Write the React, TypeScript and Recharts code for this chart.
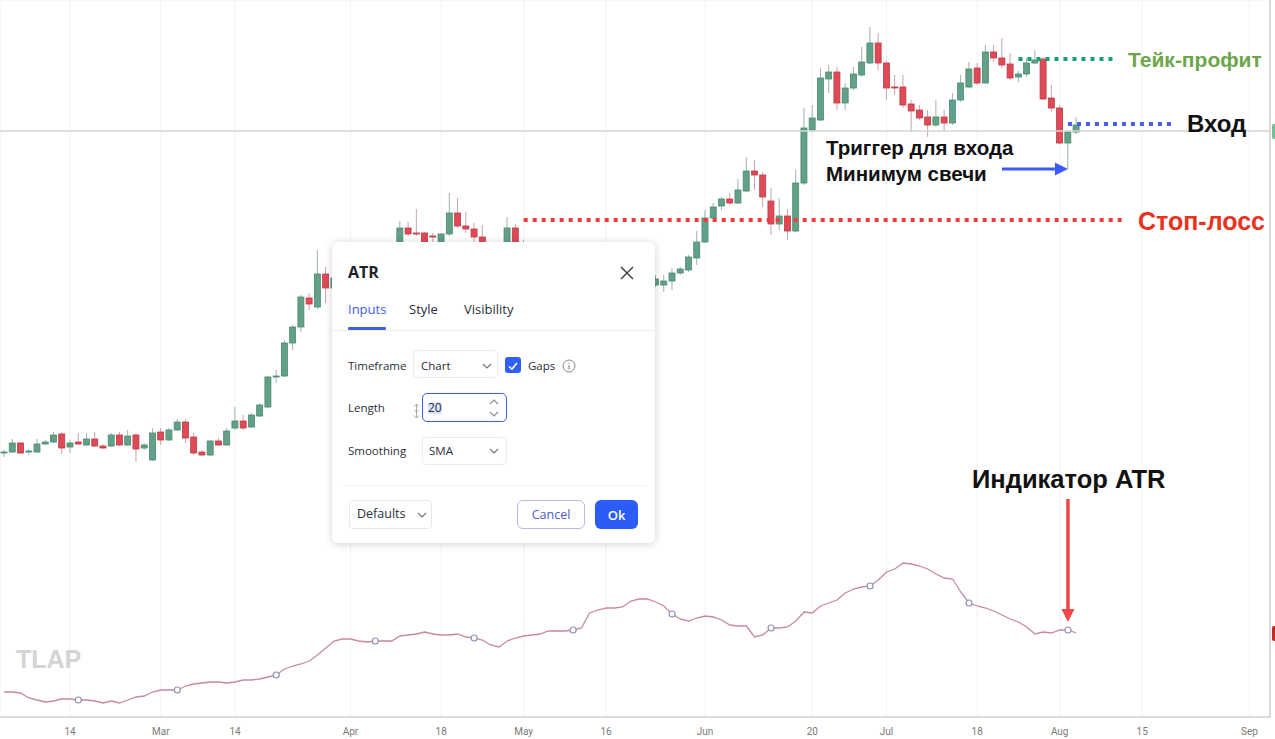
import React from 'react';
import { ComposedChart, Bar, Line, XAxis, YAxis, CartesianGrid, ReferenceLine } from 'recharts';

// weekday calendar starting Feb 2 2022 (candles + empty future slots up to the price scale)
const makeTradingDays = (start: string, count: number) => {
  const out: string[] = [];
  const d = new Date(start + 'T00:00:00Z');
  while (out.length < count) {
    const wd = d.getUTCDay();
    if (wd !== 0 && wd !== 6) out.push(d.toISOString().slice(0, 10));
    d.setUTCDate(d.getUTCDate() + 1);
  }
  return out;
};
const days = makeTradingDays('2022-02-02', 154);

const tickDates = ['2022-02-14', '2022-03-01', '2022-03-14', '2022-04-01', '2022-04-18', '2022-05-02', '2022-05-16',
  '2022-06-01', '2022-06-20', '2022-07-01', '2022-07-18', '2022-08-01', '2022-08-15', '2022-09-01'];
const tickLabels = ['14', 'Mar', '14', 'Apr', '18', 'May', '16', 'Jun', '20', 'Jul', '18', 'Aug', '15', 'Sep'];

const opens = [
  247, 248, 257, 248, 248, 256, 258, 266, 253, 258,
  255, 261, 254, 254, 265, 255, 265, 252, 240, 268,
  260, 270, 278, 263, 248, 245, 259, 255, 272, 279,
  273, 284, 293, 323, 324, 357, 373, 402, 393, 426,
  412, 422, 434, 426, 438, 445, 438, 446, 457, 472,
  467, 467, 464, 457, 466, 487, 474, 471, 463, 455,
  448, 457, 472, 457, 450, 442, 448, 438, 430, 436,
  424, 416, 422, 412, 404, 410, 416, 408, 414, 415,
  415, 419, 427, 430, 442, 458, 482, 494, 501, 497,
  509, 529, 525, 499, 476, 484, 469, 517, 570, 580,
  621, 628, 597, 612, 625, 637, 657, 637, 613, 613,
  596, 590, 583, 575, 583, 577, 600, 613, 632, 617,
  648, 642, 636, 623, 626, 637, 641, 602, 592, 557,
  568,
];
const highs = [
  250, 261, 258, 251, 261, 260, 268, 268, 260, 267,
  267, 268, 256, 267, 268, 270, 267, 257, 272, 272,
  272, 281, 281, 267, 250, 260, 262, 272, 293, 285,
  287, 297, 324, 330, 360, 375, 405, 407, 450, 433,
  430, 442, 440, 446, 452, 450, 452, 454, 479, 478,
  491, 468, 467, 467, 507, 502, 488, 477, 475, 456,
  456, 483, 476, 460, 453, 451, 450, 444, 440, 439,
  430, 428, 426, 418, 415, 420, 422, 418, 420, 425,
  425, 432, 433, 445, 469, 490, 497, 503, 507, 521,
  543, 540, 528, 512, 502, 491, 530, 592, 595, 632,
  635, 633, 617, 633, 653, 673, 667, 639, 625, 625,
  600, 595, 590, 600, 590, 607, 625, 638, 637, 655,
  655, 662, 647, 629, 642, 650, 643, 615, 595, 570,
  583,
];
const lows = [
  243, 247, 246, 245, 247, 255, 257, 246, 247, 255,
  254, 253, 251, 253, 254, 254, 238, 250, 239, 255,
  259, 269, 257, 245, 244, 244, 254, 254, 270, 270,
  272, 283, 292, 317, 323, 350, 368, 390, 391, 397,
  404, 418, 420, 423, 432, 434, 435, 442, 456, 464,
  464, 456, 457, 456, 464, 472, 467, 458, 456, 442,
  444, 456, 455, 445, 438, 436, 432, 424, 422, 418,
  408, 410, 404, 396, 400, 406, 402, 404, 407, 413,
  408, 410, 425, 428, 435, 457, 480, 490, 495, 496,
  508, 510, 493, 465, 470, 460, 468, 515, 568, 579,
  607, 590, 590, 610, 623, 636, 630, 600, 605, 592,
  568, 580, 563, 573, 570, 575, 598, 612, 615, 616,
  638, 632, 620, 618, 623, 636, 600, 588, 556, 531,
  566,
];
const closes = [
  248, 257, 247, 249, 256, 258, 265, 252, 257, 256,
  261, 254, 252, 265, 255, 264, 251, 255, 267, 260,
  270, 278, 262, 247, 245, 259, 255, 269, 279, 272,
  285, 295, 323, 324, 357, 373, 403, 396, 426, 412,
  422, 434, 426, 438, 445, 438, 446, 452, 472, 466,
  466, 457, 463, 466, 487, 474, 471, 463, 457, 448,
  454, 472, 457, 450, 442, 448, 438, 430, 436, 424,
  416, 422, 412, 404, 410, 416, 408, 414, 412, 421,
  419, 427, 431, 443, 458, 482, 493, 501, 497, 510,
  529, 525, 503, 476, 484, 469, 517, 572, 582, 622,
  628, 597, 612, 626, 638, 657, 637, 612, 612, 595,
  589, 582, 575, 583, 577, 600, 617, 631, 617, 648,
  642, 635, 622, 626, 637, 640, 601, 592, 557, 568,
  575,
];
const atrValues = [
  6.6, 6.6, 6.4, 5.4, 5.0, 4.6, 4.8, 5.2, 5.2, 5.0,
  5.0, 4.8, 4.4, 4.8, 4.4, 5.0, 5.6, 5.8, 6.6, 7.0,
  7.0, 7.0, 7.8, 8.2, 8.4, 8.6, 8.6, 8.4, 8.6, 9.0,
  9.0, 9.2, 9.6, 10.0, 11.2, 11.8, 12.2, 12.8, 14.0, 15.4,
  16.8, 17.2, 17.2, 16.8, 16.6, 16.8, 16.8, 16.8, 17.8, 18.0,
  18.2, 18.6, 18.2, 18.0, 18.0, 18.2, 17.6, 17.4, 17.0, 16.0,
  15.6, 16.8, 17.4, 17.8, 18.0, 18.2, 18.8, 18.8, 18.8, 19.0,
  19.4, 22.4, 23.0, 23.4, 23.4, 23.6, 24.8, 25.2, 25.2, 24.6,
  23.8, 22.2, 21.2, 20.8, 21.4, 21.8, 21.6, 21.0, 20.0, 19.8,
  19.8, 17.6, 18.0, 19.4, 19.4, 19.6, 20.8, 22.6, 22.4, 23.8,
  24.4, 25.0, 26.4, 27.2, 27.6, 27.8, 29.0, 30.6, 31.2, 32.4,
  32.2, 31.8, 31.2, 30.2, 29.4, 29.2, 26.6, 24.4, 23.8, 23.4,
  22.8, 22.0, 21.2, 20.6, 19.6, 18.2, 18.6, 18.4, 19.0, 19.0,
  18.4,
];

const priceGrid = [40, 101, 238, 282, 327, 371, 415, 459, 503, 547, 591, 635, 679];
const lastPriceLine = 569;
const takeProfit = 641;
const entryPrice = 576;
const stopLoss = 480;
const signalLow = 531;

const data = days.map((date, i) => ({
  date,
  range: i < opens.length ? [lows[i], highs[i]] : null,
  open: i < opens.length ? opens[i] : null,
  close: i < opens.length ? closes[i] : null,
  atr: i < atrValues.length ? atrValues[i] : null,
}));

const Candle = (props: any) => {
  const { x, y, width, height, payload } = props;
  if (!payload || payload.open == null || !payload.range) return <g />;
  const [low, high] = payload.range;
  const span = high - low || 1;
  const toY = (v: number) => y + ((high - v) / span) * height;
  const up = payload.close >= payload.open;
  const cx = x + width / 2;
  const top = toY(Math.max(payload.open, payload.close));
  const bottom = toY(Math.min(payload.open, payload.close));
  return (
    <g>
      <line x1={cx} x2={cx} y1={y} y2={y + height} stroke={up ? '#9fb2a9' : '#c8a3a7'} strokeWidth={1} />
      <rect x={x} y={top} width={width} height={Math.max(1, bottom - top)}
        fill={up ? '#62a088' : '#de4a55'} stroke={up ? '#4a8a70' : '#c03a45'} strokeWidth={0.8} />
    </g>
  );
};

const AtrDot = (props: any) => {
  const { cx, cy, index } = props;
  if (index % 12 !== 9 || cy == null) return <g key={'d' + index} />;
  return <circle key={'d' + index} cx={cx} cy={cy} r={3} fill="#fff" stroke="#8d93b6" strokeWidth={1.2} />;
};

const Arrow = (p: any) => {
  const { x1, y1, x2, y2, color, w } = p;
  const len = Math.hypot(x2 - x1, y2 - y1) || 1;
  const ux = (x2 - x1) / len, uy = (y2 - y1) / len;
  const head = 13, half = 6.5;
  const bx = x2 - ux * head, by = y2 - uy * head;
  return (
    <g>
      <line x1={x1} y1={y1} x2={bx} y2={by} stroke={color} strokeWidth={w} />
      <polygon points={`${x2},${y2} ${bx - uy * half},${by + ux * half} ${bx + uy * half},${by - ux * half}`} fill={color} />
    </g>
  );
};

// little price-scale tag sticking out right of the plot
const ScaleTag = ({ p, color, line }: any) => {
  const right = Math.max(p.x1, p.x2);
  const left = Math.min(p.x1, p.x2);
  return (
    <g>
      {line && <line x1={left} y1={p.y1} x2={right} y2={p.y2} stroke="#d4d4d4" strokeWidth={1.5} />}
      <rect x={right + 2} y={p.y1 - 7} width={8} height={15} rx={2} fill={color} />
    </g>
  );
};

const Note = ({ left, top, size, color, children }: any) => (
  <div style={{ position: 'absolute', left, top, fontSize: size, lineHeight: 1, fontWeight: 700, color,
    fontFamily: '"Liberation Sans", Arial, sans-serif', whiteSpace: 'nowrap' }}>{children}</div>
);

const Chevron = ({ left, top }: any) => (
  <svg style={{ position: 'absolute', left, top }} width={10} height={6}>
    <polyline points="1,1 5,5 9,1" fill="none" stroke="#777" strokeWidth={1.2} />
  </svg>
);

const txt = (left: number, top: number, size: number, extra: any = {}) => ({
  position: 'absolute' as const, left, top, fontSize: size, lineHeight: 1, color: '#2a2e39', whiteSpace: 'nowrap' as const, ...extra,
});

const AtrDialog = () => (
  <div style={{ position: 'absolute', left: 332, top: 242, width: 323, height: 301, background: '#fff', borderRadius: 6,
    boxShadow: '0 1px 8px rgba(0,0,0,0.18)', fontFamily: '"Open Sans", sans-serif' }}>
    <div style={txt(16, 22, 16, { fontWeight: 700, color: '#1e222d' })}>ATR</div>
    <svg style={{ position: 'absolute', left: 288, top: 24 }} width={14} height={14}>
      <path d="M1 1 L13 13 M13 1 L1 13" stroke="#444" strokeWidth={1.5} />
    </svg>
    <div style={txt(16, 61, 13, { color: '#3f5fe0' })}>Inputs</div>
    <div style={txt(77, 61, 13)}>Style</div>
    <div style={txt(132, 61, 13)}>Visibility</div>
    <div style={{ position: 'absolute', left: 16, top: 85, width: 38, height: 3, background: '#3f5fe0', borderRadius: 1 }} />
    <div style={{ position: 'absolute', left: 0, top: 88, width: 323, height: 1, background: '#eceef2' }} />

    <div style={txt(16, 118, 11.5)}>Timeframe</div>
    <div style={{ position: 'absolute', left: 81, top: 108, width: 85, height: 28, border: '1px solid #ececec', borderRadius: 4, boxSizing: 'border-box' }} />
    <div style={txt(89, 118, 11.5)}>Chart</div>
    <Chevron left={150} top={121} />
    <div style={{ position: 'absolute', left: 173, top: 115, width: 16, height: 16, background: '#2f5ff5', borderRadius: 3 }}>
      <svg width={16} height={16}><polyline points="4,8.5 7,11 12,5" fill="none" stroke="#fff" strokeWidth={1.6} /></svg>
    </div>
    <div style={txt(196, 118, 11.5)}>Gaps</div>
    <svg style={{ position: 'absolute', left: 230, top: 117 }} width={14} height={14}>
      <circle cx={7} cy={7} r={6} fill="none" stroke="#888" strokeWidth={1} />
      <path d="M7 6 L7 10.5 M7 3.8 L7 4.8" stroke="#888" strokeWidth={1.1} />
    </svg>

    <div style={txt(16, 160, 11.5)}>Length</div>
    <svg style={{ position: 'absolute', left: 80, top: 161 }} width={9} height={16}>
      <path d="M4.5 1 L4.5 15 M2 3.5 L4.5 1 L7 3.5 M2 12.5 L4.5 15 L7 12.5 M2.5 8 L6.5 8" fill="none" stroke="#aaa" strokeWidth={1} />
    </svg>
    <div style={{ position: 'absolute', left: 90, top: 151, width: 85, height: 29, border: '1.5px solid #3d5ef0', borderRadius: 5, boxSizing: 'border-box' }} />
    <div style={txt(96, 160, 12, { background: '#d9e4ff' })}>20</div>
    <svg style={{ position: 'absolute', left: 157, top: 157 }} width={10} height={6}>
      <polyline points="1,5 5,1 9,5" fill="none" stroke="#888" strokeWidth={1.1} />
    </svg>
    <svg style={{ position: 'absolute', left: 157, top: 169 }} width={10} height={6}>
      <polyline points="1,1 5,5 9,1" fill="none" stroke="#888" strokeWidth={1.1} />
    </svg>

    <div style={txt(16, 203, 11.5)}>Smoothing</div>
    <div style={{ position: 'absolute', left: 90, top: 195, width: 85, height: 28, border: '1px solid #ececec', borderRadius: 4, boxSizing: 'border-box' }} />
    <div style={txt(97, 203, 11.5)}>SMA</div>
    <Chevron left={157} top={206} />

    <div style={{ position: 'absolute', left: 10, top: 243, width: 305, height: 1, background: '#f1f1f1' }} />

    <div style={{ position: 'absolute', left: 17, top: 258, width: 83, height: 29, border: '1px solid #e8e8e8', borderRadius: 4, boxSizing: 'border-box' }} />
    <div style={txt(25, 266, 12.5)}>Defaults</div>
    <Chevron left={85} top={270} />
    <div style={{ position: 'absolute', left: 185, top: 258, width: 68, height: 29, border: '1px solid #b7baf0', borderRadius: 6,
      boxSizing: 'border-box', display: 'flex', alignItems: 'center', justifyContent: 'center', fontSize: 12.5, color: '#4e5bd0' }}>Cancel</div>
    <div style={{ position: 'absolute', left: 263, top: 258, width: 43, height: 29, background: '#2b5cf6', borderRadius: 6,
      display: 'flex', alignItems: 'center', justifyContent: 'center', fontSize: 13, color: '#fff', fontWeight: 600 }}>Ok</div>
  </div>
);

export default function App() {
  return (
    <div style={{ position: 'absolute', left: 0, top: 0, width: 1275, height: 739, background: '#fff', overflow: 'hidden',
      fontFamily: '"Liberation Sans", Arial, sans-serif' }}>
      <ComposedChart width={1275} height={739} data={data} margin={{ top: 0, right: 0, bottom: 0, left: 0 }} barCategoryGap={0}>
        <CartesianGrid yAxisId="price" stroke="#f2f2f2" strokeWidth={1} />
        <XAxis dataKey="date" ticks={tickDates} interval={0} height={22} tickLine={false} tickMargin={5}
          tickFormatter={(d: string) => tickLabels[tickDates.indexOf(d)] ?? ''}
          axisLine={{ stroke: '#d2d2d2', strokeWidth: 1.5 }}
          tick={{ fill: '#7a7a7a', fontSize: 10, fontFamily: 'Roboto' }} />
        <YAxis yAxisId="price" type="number" domain={[-17, 700]} allowDataOverflow ticks={priceGrid}
          width={0} tick={false} axisLine={false} tickLine={false} />
        <YAxis yAxisId="atr" orientation="right" type="number" domain={[1.6, 145]} allowDataOverflow
          width={5} tick={false} tickLine={false} axisLine={{ stroke: '#bdbdbd' }} />

        <ReferenceLine yAxisId="price" y={lastPriceLine}
          shape={(p: any) => <ScaleTag p={p} color="#74be94" line />} />
        <ReferenceLine yAxisId="atr" y={atrValues[atrValues.length - 1]}
          shape={(p: any) => <ScaleTag p={p} color="#c62828" />} />

        <Bar yAxisId="price" dataKey="range" barSize={6} isAnimationActive={false} shape={(p: any) => <Candle {...p} />} />
        <Line yAxisId="atr" dataKey="atr" type="linear" stroke="#c98a96" strokeWidth={1.3} dot={AtrDot}
          activeDot={false} isAnimationActive={false} connectNulls={false} />

        <ReferenceLine yAxisId="price" segment={[{ x: days[63], y: stopLoss }, { x: days[136], y: stopLoss }]}
          stroke="#f23c3c" strokeWidth={4} strokeDasharray="4 5" />
        <ReferenceLine yAxisId="price" segment={[{ x: days[123], y: takeProfit }, { x: days[135], y: takeProfit }]}
          stroke="#12a07a" strokeWidth={4} strokeDasharray="4 5" />
        <ReferenceLine yAxisId="price" segment={[{ x: days[129], y: entryPrice }, { x: days[142], y: entryPrice }]}
          stroke="#4a5ff0" strokeWidth={4} strokeDasharray="4 5" />
        <ReferenceLine yAxisId="price" segment={[{ x: days[121], y: signalLow }, { x: days[129], y: signalLow }]}
          shape={(p: any) => <Arrow {...p} color="#3b5bfd" w={3} />} />
        <ReferenceLine yAxisId="price" segment={[{ x: days[129], y: 201 }, { x: days[129], y: 78 }]}
          shape={(p: any) => <Arrow {...p} color="#f04848" w={3.5} />} />
      </ComposedChart>

      <AtrDialog />

      <Note left={1128} top={49} size={21} color="#6ca64a">Тейк-профит</Note>
      <Note left={1187} top={112} size={24} color="#111">Вход</Note>
      <Note left={1138} top={209} size={25} color="#e8321e">Стоп-лосс</Note>
      <Note left={826} top={138} size={20.5} color="#111">Триггер для входа</Note>
      <Note left={826} top={164} size={20.5} color="#111">Минимум свечи</Note>
      <Note left={972} top={467} size={25.5} color="#111">Индикатор ATR</Note>
      <Note left={16} top={647} size={25} color="#d4d4d4">TLAP</Note>
    </div>
  );
}
